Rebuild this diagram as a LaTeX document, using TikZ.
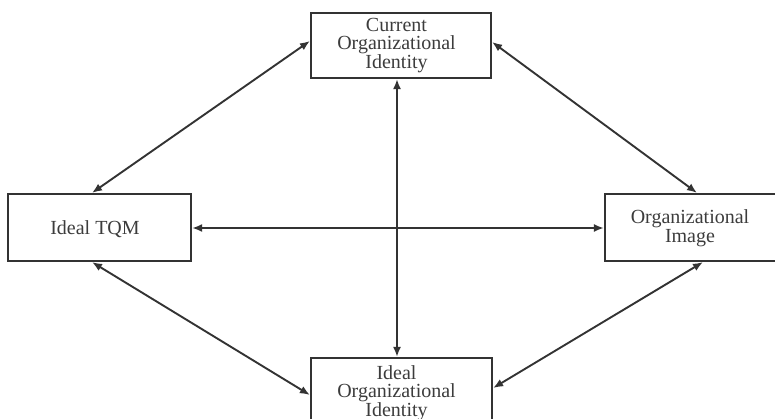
\documentclass[tikz,border=0pt]{standalone}
\usepackage{fontspec}
\setmainfont{Liberation Serif}
\usetikzlibrary{arrows.meta,calc}
\definecolor{ink}{HTML}{333333}
\definecolor{txt}{HTML}{3C3C3C}
\begin{document}
\begin{tikzpicture}[x=1pt,y=-1pt,
  box/.style={draw=ink,line width=2.2pt,inner sep=0pt,fill=none},
  lbl/.style={inner sep=0pt,align=center,text=txt,font=\fontsize{20}{18.7}\selectfont},
  link/.style={draw=ink,line width=1.9pt,{Latex[length=10pt,width=8pt]}-{Latex[length=10pt,width=8pt]}}]
  \useasboundingbox (0,0) rectangle (775,419);
  \begin{scope}
    \clip (0,0) rectangle (775,419);
    % boxes
    \node[box,minimum width=180pt,minimum height=65pt] (cur) at (401,45.5) {};
    \node[box,minimum width=183pt,minimum height=67pt] (tqm) at (99.5,227.5) {};
    \node[box,minimum width=171pt,minimum height=67pt] (img) at (690.5,227.5) {};
    \node[box,minimum width=181pt,minimum height=65pt] (ideal) at (401.5,390.5) {};
    % labels
    \node[lbl] (curtxt) at (396.5,45.5) {Current\\Organizational\\Identity};
    \node[lbl] (tqmtxt) at (95,229) {Ideal TQM};
    \node[lbl] (imgtxt) at (690,228) {Organizational\\Image};
    \node[lbl] (idealtxt) at (396.5,393) {Ideal\\Organizational\\Identity};
    % connectors
    \draw[link] ($(cur.west)+(0,-4.5)$) -- ($(tqm.north)+(-7.5,0)$);
    \draw[link] ($(cur.east)+(0,-3.5)$) -- ($(img.north)+(6.5,0)$);
    \draw[link] ($(tqm.south)+(-7.5,0)$) -- ($(ideal.west)+(0,4.5)$);
    \draw[link] ($(img.south)+(12.5,0)$) -- ($(ideal.east)+(0,-2.5)$);
    \draw[link] ($(tqm.east)+(0,0.5)$) -- ($(img.west)+(0,0.5)$);
    \draw[link] ($(cur.south)+(-4,0)$) -- ($(ideal.north)+(-4.5,0)$);
  \end{scope}
\end{tikzpicture}
\end{document}
